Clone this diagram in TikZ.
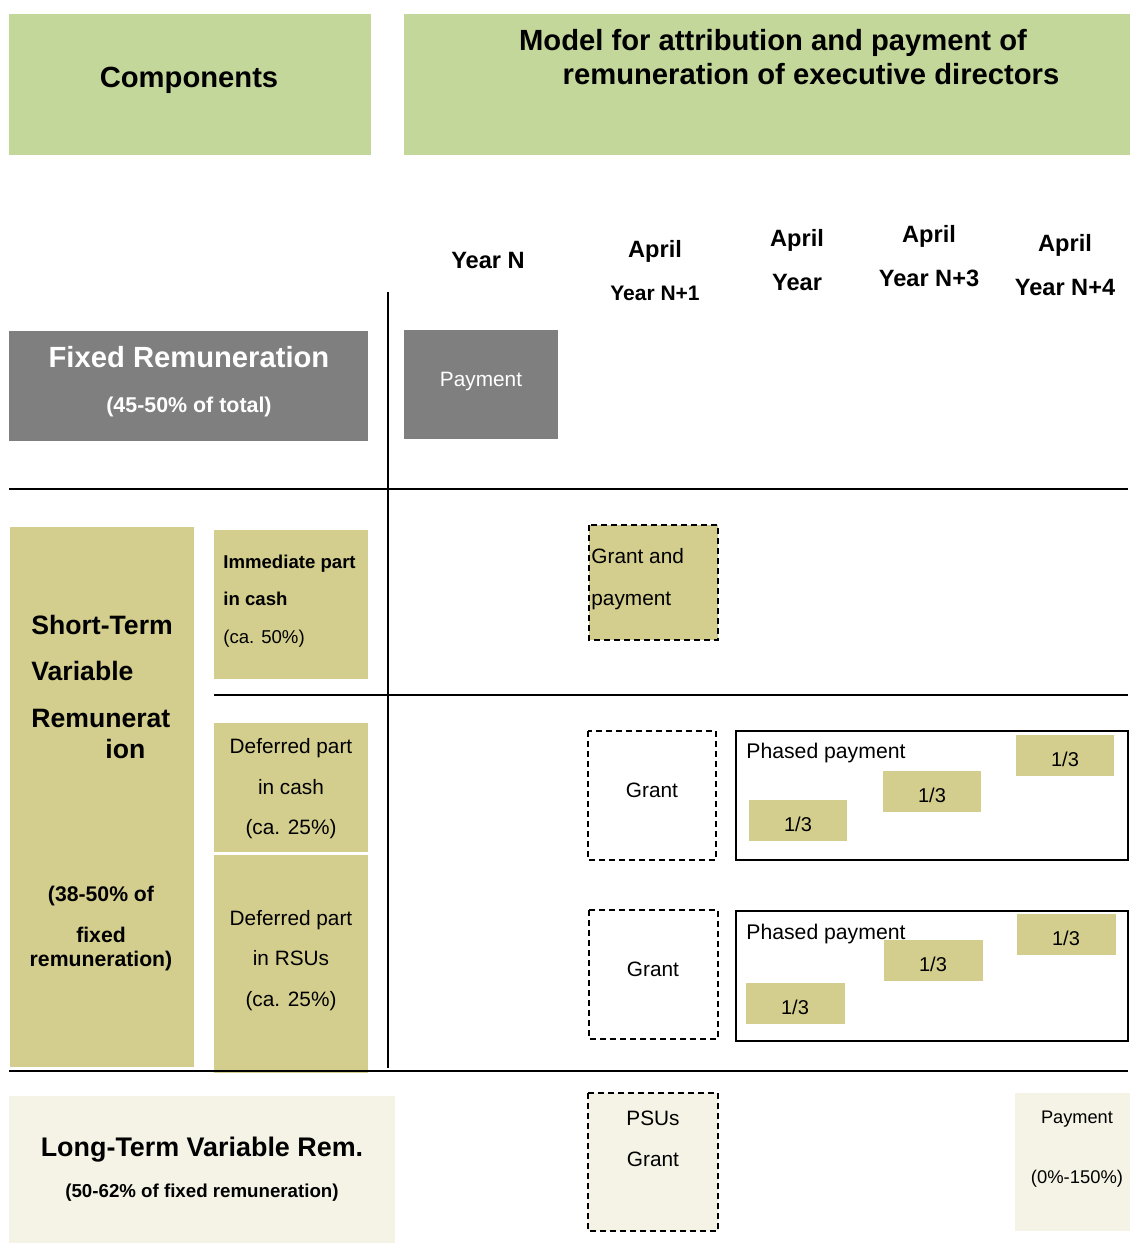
\documentclass[tikz,border=0pt]{standalone}
\usepackage{fontspec}
\setmainfont{Liberation Sans}
\definecolor{headgreen}{RGB}{196,215,155}
\definecolor{olive}{RGB}{211,206,141}
\definecolor{cream}{RGB}{245,243,230}
\definecolor{fixgray}{RGB}{127,127,127}
\begin{document}
\begin{tikzpicture}[x=0.5pt, y=-0.5pt,
        txt/.style={inner sep=0pt, anchor=mid, yshift=-1.5pt},
        ltxt/.style={inner sep=0pt, anchor=mid west, yshift=-1.5pt},
        hdr/.style={txt, font=\bfseries\fontsize{14.6}{17}\selectfont},
        yr/.style={txt, font=\bfseries\fontsize{11.8}{14}\selectfont},
        small/.style={font=\fontsize{10.4}{12}\selectfont},
        rule/.style={line width=1pt},
        dashbox/.style={draw, line width=1pt, dash pattern=on 3pt off 2pt},
        phasebox/.style={draw, line width=1pt}]
        \useasboundingbox (0,0) rectangle (1130,1244);

        % header
        \fill[headgreen] (9,14) rectangle (371,155);
        \fill[headgreen] (404,14) rectangle (1130,155);
        \node[hdr, yshift=-0.5pt] (comp) at (189,78) {Components};
        \node[hdr] (modela) at (773,42) {Model for attribution and payment of};
        \node[hdr] (modelb) at (811,76) {remuneration of executive directors};

        % years
        \node[yr] (yearn) at (488,260) {Year N};
        \foreach \x/\y [count=\i] in {655/249, 797/238, 929/234, 1065/243}
            \node[yr] (apr\i) at (\x,\y) {April};
        \node[txt, font=\bfseries\fontsize{10.5}{12}\selectfont] (yeara) at (655,292) {Year N+1};
        \node[yr] (yearb) at (797,282) {Year};
        \node[yr] (yearc) at (929,278) {Year N+3};
        \node[yr] (yeard) at (1065,287) {Year N+4};

        % fixed remuneration
        \fill[fixgray] (9,331) rectangle (368,441);
        \fill[fixgray] (404,330) rectangle (558,439);
        \node[txt, white, font=\bfseries\fontsize{14.6}{17}\selectfont] (fixa) at (189,359) {Fixed Remuneration};
        \node[txt, white, font=\bfseries\fontsize{10.7}{13}\selectfont] (fixb) at (189,404) {(45-50\% of total)};
        \node[txt, white, small] (fixpay) at (481,378) {Payment};

        % short-term variable
        \fill[olive] (10,527) rectangle (194,1067);
        \fill[olive] (214,530) rectangle (368,679);
        \fill[olive] (214,723) rectangle (368,852);
        \fill[olive] (214,855) rectangle (368,1073);
        \begin{scope}[every node/.style={ltxt, font=\bfseries\fontsize{13.3}{15}\selectfont}]
            \node (sta) at (31,626) {Short-Term};
            \node (stb) at (31,672) {Variable};
            \node (stc) at (31,719) {Remunerat};
            \node (std) at (105,750) {ion};
        \end{scope}
        \begin{scope}[every node/.style={txt, font=\bfseries\fontsize{10.6}{12}\selectfont}]
            \node (ste) at (101,893) {(38-50\% of};
            \node (stf) at (101,934) {fixed};
            \node (stg) at (101,958) {remuneration)};
        \end{scope}
        \node[ltxt, font=\bfseries\fontsize{9.3}{11}\selectfont] (imma) at (223,560) {Immediate part};
        \node[ltxt, font=\bfseries\fontsize{9.3}{11}\selectfont] (immb) at (223,597) {in cash};
        \node[ltxt, font=\fontsize{9.3}{11}\selectfont] (immc) at (223,635) {(ca. 50\%)};
        \node[txt, small] (defa) at (291,745) {Deferred part};
        \node[txt, small] (defb) at (291,786) {in cash};
        \node[txt, small] (defc) at (291,826) {(ca. 25\%)};
        \node[txt, small] (rsua) at (291,917) {Deferred part};
        \node[txt, small] (rsub) at (291,957) {in RSUs};
        \node[txt, small] (rsuc) at (291,998) {(ca. 25\%)};

        % grants and phased payments
        \draw[dashbox, fill=olive] (589,525) rectangle (718,640);
        \node[ltxt, small] (gpa) at (591,555) {Grant and};
        \node[ltxt, small] (gpb) at (591,597) {payment};

        \draw[dashbox] (588,731) rectangle (716,860);
        \node[txt, small] (granta) at (652,789) {Grant};
        \draw[phasebox] (736,731) rectangle (1128,860);
        \foreach \x/\y [count=\i] in {749/800, 883/771, 1016/735} {
            \fill[olive] (\x,\y) rectangle ++(98,41);
            \node[txt, font=\fontsize{10}{12}\selectfont] (ta\i) at (\x+49,\y+23) {1/3};
        }
        \node[ltxt, font=\fontsize{10.6}{12}\selectfont] (phasea) at (746,750) {Phased payment};

        \draw[dashbox] (589,910) rectangle (718,1039);
        \node[txt, small] (grantb) at (653,968) {Grant};
        \draw[phasebox] (736,911) rectangle (1128,1041);
        \foreach \x/\y [count=\i] in {746/983, 884/940, 1017/914} {
            \fill[olive] (\x,\y) rectangle ++(99,41);
            \node[txt, font=\fontsize{10}{12}\selectfont] (tb\i) at (\x+49,\y+23) {1/3};
        }
        \node[ltxt, font=\fontsize{10.6}{12}\selectfont] (phaseb) at (746,931) {Phased payment};

        % long-term variable
        \fill[cream] (9,1096) rectangle (395,1243);
        \node[txt, font=\bfseries\fontsize{13.45}{15}\selectfont] (lta) at (202,1148) {Long-Term Variable Rem.};
        \node[txt, font=\bfseries\fontsize{9.35}{11}\selectfont] (ltb) at (202,1189) {(50-62\% of fixed remuneration)};
        \draw[dashbox, fill=cream] (588,1093) rectangle (718,1231);
        \node[txt, small] (psua) at (653,1117) {PSUs};
        \node[txt, small] (psub) at (653,1158) {Grant};
        \fill[cream] (1015,1093) rectangle (1130,1231);
        \node[txt, font=\fontsize{9.1}{11}\selectfont] (ltpay) at (1077,1115) {Payment};
        \node[txt, font=\fontsize{9.2}{11}\selectfont] (ltpct) at (1077,1175) {(0\%-150\%)};

        % grid lines
        \draw[rule] (388,292) -- (388,1068);
        \draw[rule] (9,489) -- (1128,489);
        \draw[rule] (214,695) -- (1128,695);
        \draw[rule] (9,1071) -- (1128,1071);
\end{tikzpicture}
\end{document}
